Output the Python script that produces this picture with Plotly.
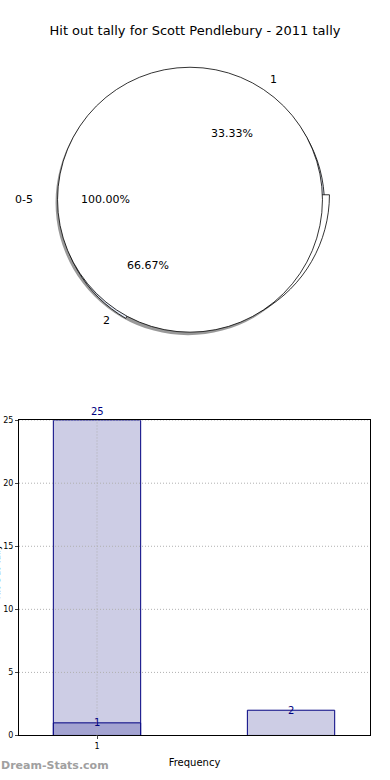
import math
import plotly.graph_objects as go

W, H = 390, 780

# ---- data ----
pie_labels = ["1", "2"]
pie_values = [1, 2]
total_label = ["0-5"]
total_value = [1]

bar_x = [1, 2]
bar_freq = [25, 2]
bar_inner_x = [1]
bar_inner = [1]
x_ticks = [1]
x_ticktext = ["1"]
y_ticks = [0, 5, 10, 15, 20, 25]

title = "Hit out tally for Scott Pendlebury - 2011 tally"

# ---- pie geometry (pixels) ----
CX, CY, R = 190, 198, 134
RX, RY = 141, 128  # label placement radii


def dom(cx, cy, r):
    return dict(x=[(cx - r) / W, (cx + r) / W], y=[1 - (cy + r) / H, 1 - (cy - r) / H])


font = "DejaVu Sans"
fig = go.Figure()

# shadow
fig.add_trace(go.Pie(values=pie_values, labels=pie_labels, sort=False, rotation=90,
                     direction="counterclockwise", textinfo="none", hoverinfo="skip",
                     marker=dict(colors=["rgba(0,0,0,0.4)"] * 2, line=dict(width=0)),
                     domain=dom(CX - 2, CY + 3, R), showlegend=False))
# slice 2 (offset)
fig.add_trace(go.Pie(values=pie_values, labels=pie_labels, sort=False, rotation=90,
                     direction="counterclockwise", textinfo="none", hoverinfo="skip",
                     marker=dict(colors=["rgba(0,0,0,0)", "#e4eaf7"],
                                 line=dict(color="black", width=[0, 0.8])),
                     domain=dom(CX + 2, CY + 4, R), showlegend=False))
# slice 1 (offset)
fig.add_trace(go.Pie(values=pie_values, labels=pie_labels, sort=False, rotation=90,
                     direction="counterclockwise", textinfo="none", hoverinfo="skip",
                     marker=dict(colors=["white", "rgba(0,0,0,0)"],
                                 line=dict(color="black", width=[0.8, 0])),
                     domain=dom(CX + 6, CY - 5, R + 1), showlegend=False))
# total pie on top
fig.add_trace(go.Pie(values=total_value, labels=total_label, sort=False, rotation=90,
                     direction="counterclockwise", textinfo="none", hoverinfo="skip",
                     marker=dict(colors=["white"], line=dict(color="black", width=0.8)),
                     domain=dom(CX, CY, R), showlegend=False))

annotations = []


def pie_labels_ann(labels, values):
    tot = sum(values)
    start = 0.0
    for lab, v in zip(labels, values):
        frac = v / tot
        mid = math.radians(360 * (start + frac / 2))
        start += frac
        c, s = math.cos(mid), math.sin(mid)
        lx, ly = CX + 1.1 * RX * c, CY - 1.1 * RY * s
        annotations.append(dict(x=lx / W, y=1 - ly / H, xref="paper", yref="paper",
                                text=lab, showarrow=False,
                                xanchor="left" if c > 0.01 else ("right" if c < -0.01 else "center"),
                                yanchor="middle", font=dict(family=font, size=11, color="black")))
        px_, py_ = CX + 0.6 * RX * c, CY - 0.6 * RY * s
        annotations.append(dict(x=px_ / W, y=1 - py_ / H, xref="paper", yref="paper",
                                text="%.2f%%" % (100 * frac), showarrow=False,
                                xanchor="center", yanchor="middle",
                                font=dict(family=font, size=11, color="black")))


pie_labels_ann(pie_labels, pie_values)
pie_labels_ann(total_label, total_value)

# ---- bar chart ----
fig.add_trace(go.Bar(x=bar_x, y=bar_freq, width=0.45,
                     marker=dict(color="#cdcde5", line=dict(color="#000080", width=1)),
                     hoverinfo="skip", showlegend=False, xaxis="x", yaxis="y"))
fig.add_trace(go.Bar(x=bar_inner_x, y=bar_inner, width=0.45,
                     marker=dict(color="#a3a3d1", line=dict(color="#000080", width=1)),
                     hoverinfo="skip", showlegend=False, xaxis="x", yaxis="y"))

for xv, yv in zip(bar_x, bar_freq):
    annotations.append(dict(x=xv, y=yv, xref="x", yref="y", text=str(yv), showarrow=False,
                            yanchor="bottom" if yv == max(bar_freq) else "middle",
                            yshift=1 if yv == max(bar_freq) else 0,
                            font=dict(family=font, size=10, color="#000080")))
for xv, yv in zip(bar_inner_x, bar_inner):
    annotations.append(dict(x=xv, y=yv, xref="x", yref="y", text=str(yv), showarrow=False,
                            yanchor="middle", font=dict(family=font, size=10, color="#000080")))

# y-axis title (clipped at the left edge as in the reference) and watermark
annotations.append(dict(x=4 / W, y=1 - 575 / H, xref="paper", yref="paper", text="Hit Out Tally",
                        textangle=-90, showarrow=False, xanchor="right", yanchor="middle",
                        font=dict(family=font, size=9, color="black")))
annotations.append(dict(x=-1 / W, y=1 - 770 / H, xref="paper", yref="paper", text="<b>Dream-Stats.com</b>",
                        showarrow=False, xanchor="left", yanchor="middle",
                        font=dict(family=font, size=11, color="#a0a0a0")))

# dotted grid drawn above the bars (as in the reference)
shapes = []
dot = dict(color="#b0b0b0", width=1, dash="1px,2px")
for yv in y_ticks[1:]:
    shapes.append(dict(type="line", xref="x domain", yref="y", x0=0, x1=1, y0=yv, y1=yv,
                       line=dot, layer="above"))
for xv in x_ticks:
    shapes.append(dict(type="line", xref="x", yref="y domain", x0=xv, x1=xv, y0=0, y1=1,
                       line=dot, layer="above"))

fig.update_layout(
    width=W, height=H, margin=dict(l=0, r=0, t=0, b=0),
    paper_bgcolor="white", plot_bgcolor="white", barmode="overlay",
    title=dict(text=title, x=0.5, xanchor="center", y=1 - 30 / H, yanchor="middle",
               font=dict(family=font, size=13, color="black")),
    xaxis=dict(domain=[19 / W, 370 / W], range=[0.598, 2.407], tickvals=x_ticks, ticktext=x_ticktext,
               showline=True, linecolor="black", linewidth=1, mirror=True, ticks="outside", ticklen=3,
               tickfont=dict(family=font, size=8, color="black"), zeroline=False, showgrid=False,
               layer="above traces", anchor="y",
               title=dict(text="Frequency", font=dict(family=font, size=10, color="black"), standoff=8)),
    yaxis=dict(domain=[1 - 740 / H, 1 - 421 / H], range=[0, 25], tickvals=y_ticks,
               showline=True, linecolor="black", linewidth=1, mirror=True, ticks="outside", ticklen=3,
               tickfont=dict(family=font, size=8, color="black"), zeroline=False, showgrid=False,
               layer="above traces", anchor="x"),
    shapes=shapes,
    annotations=annotations,
)

fig.write_html("out.html", config={"displayModeBar": False},
               post_script="document.body.style.margin='0';")
